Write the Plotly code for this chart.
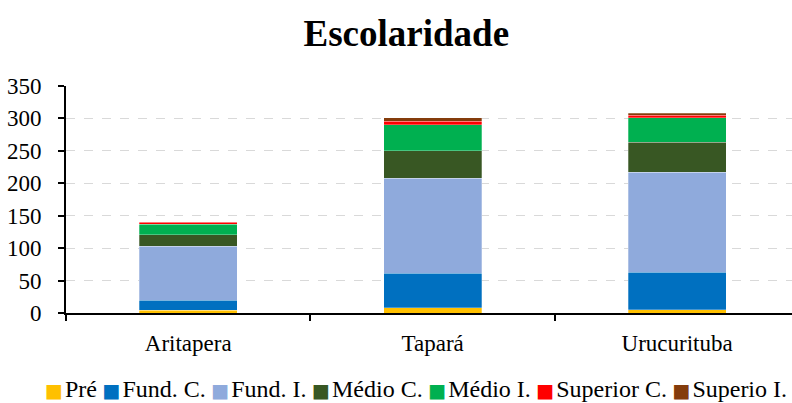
import plotly.graph_objects as go

categories = ["Aritapera", "Tapará", "Urucurituba"]
series_names = ["Pré", "Fund. C.", "Fund. I.", "Médio C.", "Médio I.", "Superior C.", "Superio I."]
pre = [4, 8, 5]
fund_c = [16, 53, 58]
fund_i = [83, 147, 154]
medio_c = [18, 42, 46]
medio_i = [16, 40, 38]
superior_c = [3, 6, 4]
superio_i = [1, 5, 3]
colors = ["#FFC000", "#0070C0", "#8FAADC", "#385723", "#00B050", "#FF0000", "#843C0C"]
y_ticks = [0, 50, 100, 150, 200, 250, 300, 350]

values = [pre, fund_c, fund_i, medio_c, medio_i, superior_c, superio_i]

fig = go.Figure()
for name, vals, col in zip(series_names, values, colors):
    fig.add_trace(go.Bar(
        x=categories, y=vals, name=name,
        marker=dict(color=col, line=dict(color="rgba(255,255,255,0.35)", width=0.8)),
        width=0.4, showlegend=False,
    ))

font_family = "Liberation Serif, Times New Roman, serif"

small_gap = "<span style='font-size:8px'>&nbsp;</span>"
big_gap = "<span style='font-size:22px'>&nbsp;</span>"
legend_text = big_gap.join(
    f"<span style='color:{c};font-size:19px;font-family:DejaVu Sans'>■</span>{small_gap}{n}"
    for n, c in zip(series_names, colors)
)
fig.add_annotation(
    text=legend_text, xref="paper", yref="paper", x=0.482, xanchor="center",
    y=-0.333, yanchor="middle", showarrow=False,
    font=dict(size=24, family=font_family, color="black"),
)

fig.update_layout(
    barmode="stack",
    width=792, height=403,
    margin=dict(l=66, r=0, t=86, b=90),
    paper_bgcolor="white", plot_bgcolor="white",
    font=dict(family=font_family, size=23, color="black"),
    title=dict(text="<b>Escolaridade</b>", x=0.513, xanchor="center", xref="container",
               y=0.918, yanchor="middle", font=dict(size=37, family=font_family, color="black")),
    showlegend=False,
)
fig.update_xaxes(
    range=[-0.5, 2.47],
    showline=True, linecolor="black", linewidth=2,
    ticks="outside", tickson="boundaries", ticklen=6, tickwidth=2, tickcolor="black",
    showgrid=False, ticklabelstandoff=8,
    tickfont=dict(size=23, family=font_family),
)
fig.update_yaxes(
    range=[0, 350], tickvals=y_ticks,
    showline=True, linecolor="black", linewidth=2,
    ticks="outside", ticklen=6, tickwidth=2, tickcolor="black",
    showgrid=True, gridcolor="#D9D9D9", griddash="dash", gridwidth=1,
    tickfont=dict(size=23, family=font_family), ticklabelstandoff=12,
    zeroline=False,
)

fig.write_html("out.html", config={"displayModeBar": False},
               post_script="document.body.style.margin='0';")
